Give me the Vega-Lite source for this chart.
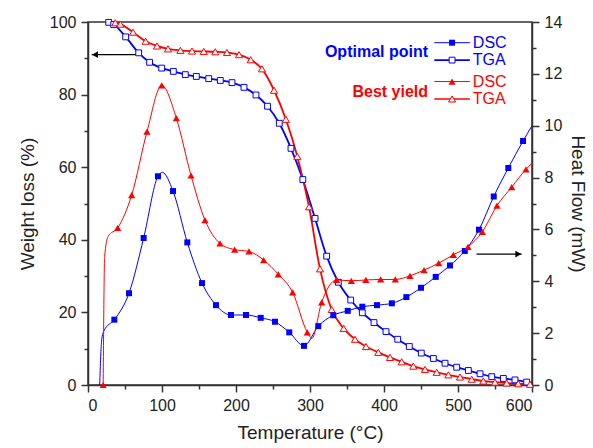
{
  "$schema": "https://vega.github.io/schema/vega-lite/v6.json",
  "width": 444,
  "height": 363,
  "autosize": {"type": "none"},
  "padding": {"left": 88, "top": 22, "right": 61, "bottom": 63},
  "background": "white",
  "datasets": {
    "curves": [
      {"s":"bDSC","t":15.8,"v":0,"m":0},{"s":"bDSC","t":18.5,"v":1.74,"m":0},{"s":"bDSC","t":21.6,"v":2.09,"m":0},{"s":"bDSC","t":35.6,"v":2.52,"m":1},{"s":"bDSC","t":55.4,"v":3.54,"m":1},{"s":"bDSC","t":75.2,"v":5.67,"m":1},{"s":"bDSC","t":94.6,"v":8.05,"m":1},{"s":"bDSC","t":100.5,"v":8.2,"m":0},{"s":"bDSC","t":114.9,"v":7.48,"m":1},{"s":"bDSC","t":134.2,"v":5.5,"m":1},{"s":"bDSC","t":154.1,"v":3.93,"m":1},{"s":"bDSC","t":173,"v":3.08,"m":1},{"s":"bDSC","t":193.2,"v":2.7,"m":1},{"s":"bDSC","t":213.5,"v":2.7,"m":1},{"s":"bDSC","t":233.4,"v":2.59,"m":1},{"s":"bDSC","t":252.7,"v":2.44,"m":1},{"s":"bDSC","t":272,"v":2.03,"m":1},{"s":"bDSC","t":291.9,"v":1.51,"m":1},{"s":"bDSC","t":311.2,"v":2.27,"m":1},{"s":"bDSC","t":331.5,"v":2.69,"m":1},{"s":"bDSC","t":351,"v":2.86,"m":1},{"s":"bDSC","t":370.7,"v":3.02,"m":1},{"s":"bDSC","t":390.5,"v":3.08,"m":1},{"s":"bDSC","t":410.6,"v":3.15,"m":1},{"s":"bDSC","t":430.2,"v":3.39,"m":1},{"s":"bDSC","t":450,"v":3.75,"m":1},{"s":"bDSC","t":469.9,"v":4.17,"m":1},{"s":"bDSC","t":489.2,"v":4.61,"m":1},{"s":"bDSC","t":509.2,"v":5.17,"m":1},{"s":"bDSC","t":528.4,"v":5.99,"m":1},{"s":"bDSC","t":548.3,"v":7.27,"m":1},{"s":"bDSC","t":568,"v":8.37,"m":1},{"s":"bDSC","t":587.9,"v":9.41,"m":1},{"s":"bDSC","t":600,"v":10.0,"m":0},
      {"s":"rDSC","t":20.5,"v":0,"m":1},{"s":"rDSC","t":22.5,"v":4.95,"m":0},{"s":"rDSC","t":27,"v":5.72,"m":0},{"s":"rDSC","t":40.1,"v":6.06,"m":1},{"s":"rDSC","t":59,"v":7.32,"m":1},{"s":"rDSC","t":79.7,"v":9.77,"m":1},{"s":"rDSC","t":99.6,"v":11.56,"m":1},{"s":"rDSC","t":119.4,"v":10.29,"m":1},{"s":"rDSC","t":139.2,"v":8.08,"m":1},{"s":"rDSC","t":158.1,"v":6.36,"m":1},{"s":"rDSC","t":178.4,"v":5.46,"m":1},{"s":"rDSC","t":198.2,"v":5.22,"m":1},{"s":"rDSC","t":217.6,"v":5.15,"m":1},{"s":"rDSC","t":237.4,"v":4.82,"m":1},{"s":"rDSC","t":257.2,"v":4.27,"m":1},{"s":"rDSC","t":276.6,"v":3.57,"m":1},{"s":"rDSC","t":296.4,"v":2.03,"m":1},{"s":"rDSC","t":302.5,"v":1.8,"m":0},{"s":"rDSC","t":315.8,"v":3.19,"m":1},{"s":"rDSC","t":336,"v":4.05,"m":1},{"s":"rDSC","t":355.9,"v":4.02,"m":1},{"s":"rDSC","t":375.5,"v":4.05,"m":1},{"s":"rDSC","t":395.5,"v":4.07,"m":1},{"s":"rDSC","t":415.3,"v":4.07,"m":1},{"s":"rDSC","t":435.1,"v":4.21,"m":1},{"s":"rDSC","t":454.1,"v":4.43,"m":1},{"s":"rDSC","t":473.9,"v":4.7,"m":1},{"s":"rDSC","t":493.7,"v":5.02,"m":1},{"s":"rDSC","t":513.5,"v":5.33,"m":1},{"s":"rDSC","t":532.9,"v":5.91,"m":1},{"s":"rDSC","t":552.7,"v":6.92,"m":1},{"s":"rDSC","t":572.6,"v":7.63,"m":1},{"s":"rDSC","t":591.9,"v":8.32,"m":1},{"s":"rDSC","t":600,"v":8.55,"m":0},
      {"s":"bTGA","t":24.7,"v":100,"m":0},{"s":"bTGA","t":28,"v":99.9,"m":1},{"s":"bTGA","t":34.7,"v":99.3,"m":1},{"s":"bTGA","t":50.9,"v":95.9,"m":1},{"s":"bTGA","t":68.5,"v":91.5,"m":1},{"s":"bTGA","t":83.3,"v":88.9,"m":1},{"s":"bTGA","t":99.6,"v":87.3,"m":1},{"s":"bTGA","t":115.3,"v":86.4,"m":1},{"s":"bTGA","t":131.5,"v":85.5,"m":1},{"s":"bTGA","t":146.4,"v":85.0,"m":1},{"s":"bTGA","t":163.1,"v":84.4,"m":1},{"s":"bTGA","t":178.8,"v":83.9,"m":1},{"s":"bTGA","t":194.6,"v":83.3,"m":1},{"s":"bTGA","t":210.8,"v":82.0,"m":1},{"s":"bTGA","t":227,"v":79.9,"m":1},{"s":"bTGA","t":242.6,"v":76.8,"m":1},{"s":"bTGA","t":258.5,"v":72.1,"m":1},{"s":"bTGA","t":274.3,"v":65.2,"m":1},{"s":"bTGA","t":290.3,"v":56.6,"m":1},{"s":"bTGA","t":306.8,"v":45.9,"m":1},{"s":"bTGA","t":322.5,"v":35.5,"m":1},{"s":"bTGA","t":338.3,"v":28.3,"m":1},{"s":"bTGA","t":355,"v":23.4,"m":1},{"s":"bTGA","t":370.7,"v":19.9,"m":1},{"s":"bTGA","t":386.5,"v":17.2,"m":1},{"s":"bTGA","t":402.7,"v":14.7,"m":1},{"s":"bTGA","t":418.5,"v":12.6,"m":1},{"s":"bTGA","t":434.2,"v":10.6,"m":1},{"s":"bTGA","t":450.4,"v":8.8,"m":1},{"s":"bTGA","t":466.7,"v":7.3,"m":1},{"s":"bTGA","t":482.5,"v":6.0,"m":1},{"s":"bTGA","t":498.2,"v":4.9,"m":1},{"s":"bTGA","t":514,"v":4.0,"m":1},{"s":"bTGA","t":529.8,"v":3.1,"m":1},{"s":"bTGA","t":545.6,"v":2.3,"m":1},{"s":"bTGA","t":561.3,"v":1.8,"m":1},{"s":"bTGA","t":577,"v":1.4,"m":1},{"s":"bTGA","t":592.8,"v":0.8,"m":1},{"s":"bTGA","t":600,"v":0.6,"m":0},
      {"s":"rTGA","t":31,"v":100,"m":0},{"s":"rTGA","t":36.9,"v":99.8,"m":1},{"s":"rTGA","t":43.7,"v":99.4,"m":1},{"s":"rTGA","t":60.8,"v":97.2,"m":1},{"s":"rTGA","t":77.9,"v":94.7,"m":1},{"s":"rTGA","t":93.2,"v":93.4,"m":1},{"s":"rTGA","t":108.1,"v":92.6,"m":1},{"s":"rTGA","t":124.8,"v":92.2,"m":1},{"s":"rTGA","t":140.5,"v":92.0,"m":1},{"s":"rTGA","t":156.4,"v":91.9,"m":1},{"s":"rTGA","t":172,"v":91.8,"m":1},{"s":"rTGA","t":187.8,"v":91.6,"m":1},{"s":"rTGA","t":204.1,"v":91.0,"m":1},{"s":"rTGA","t":219.8,"v":89.6,"m":1},{"s":"rTGA","t":235.1,"v":87.1,"m":1},{"s":"rTGA","t":251.4,"v":81.2,"m":1},{"s":"rTGA","t":267.4,"v":73.2,"m":1},{"s":"rTGA","t":282.8,"v":63.0,"m":1},{"s":"rTGA","t":298.7,"v":49.1,"m":1},{"s":"rTGA","t":313.5,"v":32.0,"m":1},{"s":"rTGA","t":329.3,"v":20.8,"m":1},{"s":"rTGA","t":345.5,"v":15.6,"m":1},{"s":"rTGA","t":360.8,"v":12.6,"m":1},{"s":"rTGA","t":375.7,"v":10.6,"m":1},{"s":"rTGA","t":392.3,"v":9.0,"m":1},{"s":"rTGA","t":408.1,"v":7.6,"m":1},{"s":"rTGA","t":423.9,"v":6.4,"m":1},{"s":"rTGA","t":439.6,"v":5.2,"m":1},{"s":"rTGA","t":455.4,"v":4.3,"m":1},{"s":"rTGA","t":471.2,"v":3.5,"m":1},{"s":"rTGA","t":487,"v":2.8,"m":1},{"s":"rTGA","t":502.7,"v":2.2,"m":1},{"s":"rTGA","t":518.5,"v":1.6,"m":1},{"s":"rTGA","t":534.2,"v":1.1,"m":1},{"s":"rTGA","t":550,"v":0.8,"m":1},{"s":"rTGA","t":565.8,"v":0.55,"m":1},{"s":"rTGA","t":581.5,"v":0.35,"m":1},{"s":"rTGA","t":597.3,"v":0.2,"m":1}
    ],
    "leg": [
      {"s":"bDSC","t":468,"t2":516,"tm":492,"v":94.3,"lab":"DSC"},
      {"s":"bTGA","t":468,"t2":516,"tm":492,"v":89.5,"lab":"TGA"},
      {"s":"rDSC","t":468,"t2":516,"tm":492,"v":83.6,"lab":"DSC"},
      {"s":"rTGA","t":468,"t2":516,"tm":492,"v":78.8,"lab":"TGA"}
    ],
    "grp": [
      {"s":"bDSC","t":459.5,"v":91.7,"lab":"Optimal point"},
      {"s":"rDSC","t":459.5,"v":80.8,"lab":"Best yield"}
    ],
    "arrL": [{"t":5,"t2":64.5,"th":9.5,"v":91.0}],
    "arrR": [{"t":525,"t2":586,"th":581.5,"v":5.05}]
  },
  "encoding": {
    "x": {"field":"t","type":"quantitative","scale":{"domain":[0,600],"nice":false},
      "axis":{"orient":"bottom","values":[0,50,100,150,200,250,300,350,400,450,500,550,600],
        "labelExpr":"datum.value % 100 === 0 ? datum.label : ''",
        "tickSize":{"condition":{"test":"datum.value % 100 === 0","value":7},"value":4},
        "labelPadding":5,"title":"Temperature (°C)","titlePadding":10}},
    "color": {"field":"s","type":"nominal","legend":null,
      "scale":{"domain":["bDSC","bTGA","rDSC","rTGA"],"range":["#0000ff","#0000ff","#ff0000","#ff0000"]}}
  },
  "layer": [
    {
      "encoding": {
        "y": {"field":"v","type":"quantitative","scale":{"domain":[0,100],"nice":false},
          "axis":{"orient":"left","values":[0,10,20,30,40,50,60,70,80,90,100],
            "labelExpr":"datum.value % 20 === 0 ? datum.label : ''",
            "tickSize":{"condition":{"test":"datum.value % 20 === 0","value":7},"value":4},
            "labelPadding":5,"title":"Weight loss (%)","titlePadding":12}}
      },
      "layer": [
        {"data":{"name":"curves"},"transform":[{"filter":"datum.s === 'bTGA' || datum.s === 'rTGA'"}],
          "mark":{"type":"line","interpolate":"monotone","strokeWidth":1.8}},
        {"data":{"name":"curves"},"transform":[{"filter":"(datum.s === 'bTGA' || datum.s === 'rTGA') && datum.m === 1"}],
          "mark":{"type":"point","filled":false,"fill":"white","fillOpacity":1,"strokeWidth":1,"opacity":1},
          "encoding":{"shape":{"field":"s","type":"nominal","legend":null,"scale":{"domain":["bDSC","bTGA","rDSC","rTGA"],"range":["square","square","triangle-up","triangle-up"]}},
            "size":{"condition":{"test":"datum.s === 'rTGA'","value":50},"value":34}}},
        {"data":{"name":"arrL"},"mark":{"type":"rule","strokeWidth":1.2},"encoding":{"x2":{"field":"t2"},"color":{"value":"#000"}}},
        {"data":{"name":"arrL"},"mark":{"type":"point","filled":true,"shape":"triangle-left","size":45,"opacity":1},"encoding":{"x":{"field":"th","type":"quantitative"},"color":{"value":"#000"}}},
        {"data":{"name":"leg"},"mark":{"type":"rule"},"encoding":{"x2":{"field":"t2"},
          "strokeWidth":{"condition":{"test":"datum.s === 'bTGA' || datum.s === 'rTGA'","value":1.6},"value":1}}},
        {"data":{"name":"leg"},"transform":[{"filter":"datum.s === 'bDSC' || datum.s === 'rDSC'"}],
          "mark":{"type":"point","filled":true,"opacity":1},
          "encoding":{"x":{"field":"tm","type":"quantitative"},"shape":{"field":"s","type":"nominal","legend":null,"scale":{"domain":["bDSC","bTGA","rDSC","rTGA"],"range":["square","square","triangle-up","triangle-up"]}},
            "size":{"condition":{"test":"datum.s === 'rDSC'","value":52},"value":36}}},
        {"data":{"name":"leg"},"transform":[{"filter":"datum.s === 'bTGA' || datum.s === 'rTGA'"}],
          "mark":{"type":"point","filled":false,"fill":"white","fillOpacity":1,"strokeWidth":1,"opacity":1},
          "encoding":{"x":{"field":"tm","type":"quantitative"},"shape":{"field":"s","type":"nominal","legend":null,"scale":{"domain":["bDSC","bTGA","rDSC","rTGA"],"range":["square","square","triangle-up","triangle-up"]}},
            "size":{"condition":{"test":"datum.s === 'rTGA'","value":50},"value":34}}},
        {"data":{"name":"leg"},"mark":{"type":"text","align":"left","baseline":"middle","dx":3,"fontSize":16,"font":"Liberation Sans"},
          "encoding":{"x":{"field":"t2","type":"quantitative"},"text":{"field":"lab"}}},
        {"data":{"name":"grp"},"mark":{"type":"text","align":"right","baseline":"middle","fontSize":16,"fontWeight":"bold","font":"Liberation Sans"},
          "encoding":{"text":{"field":"lab"}}}
      ]
    },
    {
      "encoding": {
        "y": {"field":"v","type":"quantitative","scale":{"domain":[0,14],"nice":false},
          "axis":{"orient":"right","values":[0,1,2,3,4,5,6,7,8,9,10,11,12,13,14],
            "labelExpr":"datum.value % 2 === 0 ? datum.label : ''",
            "tickSize":{"condition":{"test":"datum.value % 2 === 0","value":7},"value":4},
            "labelPadding":5,"title":"Heat Flow (mW)","titlePadding":6}}
      },
      "layer": [
        {"data":{"name":"curves"},"transform":[{"filter":"datum.s === 'bDSC' || datum.s === 'rDSC'"}],
          "mark":{"type":"line","interpolate":"monotone","strokeWidth":1}},
        {"data":{"name":"curves"},"transform":[{"filter":"(datum.s === 'bDSC' || datum.s === 'rDSC') && datum.m === 1"}],
          "mark":{"type":"point","filled":true,"opacity":1},
          "encoding":{"shape":{"field":"s","type":"nominal","legend":null,"scale":{"domain":["bDSC","bTGA","rDSC","rTGA"],"range":["square","square","triangle-up","triangle-up"]}},
            "size":{"condition":{"test":"datum.s === 'rDSC'","value":52},"value":36}}},
        {"data":{"name":"arrR"},"mark":{"type":"rule","strokeWidth":1.2},"encoding":{"x2":{"field":"t2"},"color":{"value":"#000"}}},
        {"data":{"name":"arrR"},"mark":{"type":"point","filled":true,"shape":"triangle-right","size":45,"opacity":1},"encoding":{"x":{"field":"th","type":"quantitative"},"color":{"value":"#000"}}}
      ]
    }
  ],
  "resolve": {"scale": {"y": "independent"}},
  "config": {
    "font": "Liberation Sans",
    "view": {"stroke": "#333", "strokeWidth": 1.5},
    "axis": {"grid": false, "domainColor": "#333", "domainWidth": 1.5, "tickColor": "#333", "tickWidth": 1.5,
      "labelFontSize": 16, "labelColor": "#222", "labelFont": "Liberation Sans",
      "titleFontSize": 19, "titleFontWeight": "normal", "titleColor": "#222", "titleFont": "Liberation Sans"},
    "legend": {"disable": true}
  }
}
